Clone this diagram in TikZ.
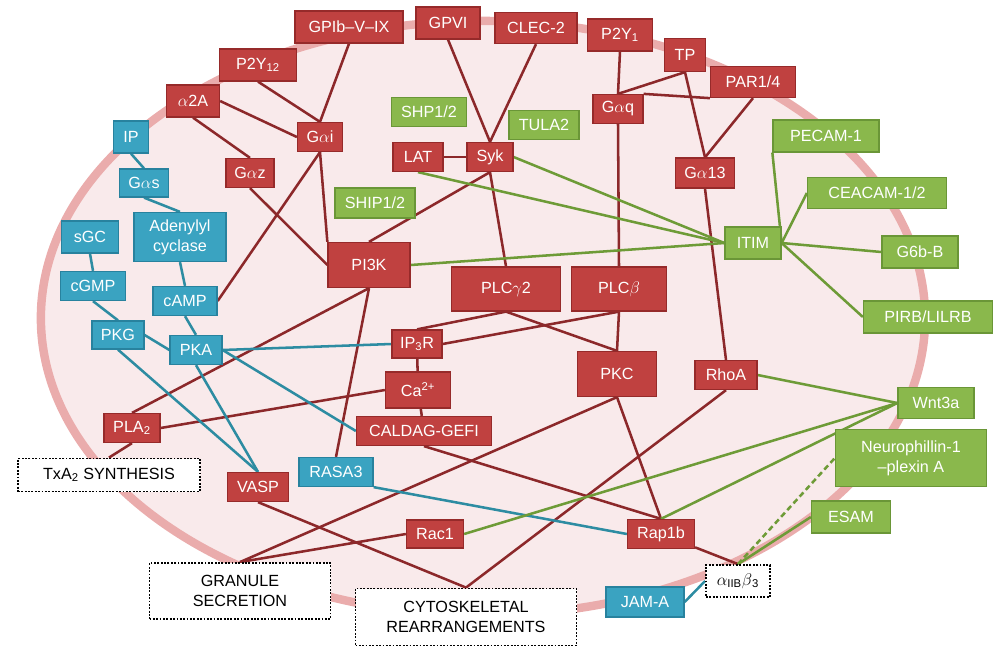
\documentclass[tikz,border=0pt]{standalone}
\usepackage{fontspec}
\setmainfont{Liberation Sans}
\usetikzlibrary{backgrounds}

\definecolor{boxred}{RGB}{192,65,64}
\definecolor{boxredline}{RGB}{150,42,42}
\definecolor{boxblue}{RGB}{58,163,193}
\definecolor{boxblueline}{RGB}{40,130,158}
\definecolor{boxgreen}{RGB}{138,184,76}
\definecolor{boxgreenline}{RGB}{106,150,55}
\definecolor{linkred}{RGB}{140,40,42}
\definecolor{linkblue}{RGB}{45,140,162}
\definecolor{linkgreen}{RGB}{110,155,55}
\definecolor{cellfill}{RGB}{249,234,235}
\definecolor{cellrim}{RGB}{234,172,172}

\begin{document}
\begin{tikzpicture}[x=0.025cm,y=-0.025cm,font=\fontsize{11.5}{14}\selectfont,
 wh/.style 2 args={minimum width=#1*0.025cm,minimum height=#2*0.025cm},
 box/.style={draw,line width=0.9pt,inner sep=0pt,align=center,text=white},
 rbox/.style={box,fill=boxred,draw=boxredline},
 bbox/.style={box,fill=boxblue,draw=boxblueline},
 gbox/.style={box,fill=boxgreen,draw=boxgreenline},
 outcome/.style={draw,fill=white,line width=1.3pt,dash pattern=on 1.3pt off 1.1pt,
   inner sep=0pt,align=center,text=black},
 rl/.style={draw=linkred,line width=1.8pt},
 bl/.style={draw=linkblue,line width=1.8pt},
 gl/.style={draw=linkgreen,line width=1.8pt}]
\useasboundingbox (0,0) rectangle (1000,647);

% receptors and signalling proteins
\node[rbox,wh={108}{32}] (GPIb) at (349,27) {GPIb–V–IX};
\node[rbox,wh={64}{32}] (GPVI) at (448,23) {GPVI};
\node[rbox,wh={82}{31}] (CLEC) at (536,28) {CLEC-2};
\node[rbox,wh={65}{32}] (P2Y1) at (620,35) {P2Y\textsubscript{1}};
\node[rbox,wh={41}{33}] (TP) at (685,55) {TP};
\node[rbox,wh={85}{31}] (PAR) at (753,82) {PAR1/4};
\node[rbox,wh={50}{29}] (Gaq) at (618,109) {G$\alpha$q};
\node[rbox,wh={59}{30}] (Ga13) at (705,173) {G$\alpha$13};
\node[rbox,wh={46}{29}] (Syk) at (490,157) {Syk};
\node[rbox,wh={50}{29}] (LAT) at (418,157) {LAT};
\node[rbox,wh={77}{32}] (P2Y12) at (258,65) {P2Y\textsubscript{12}};
\node[rbox,wh={53}{32}] (a2A) at (193,101) {$\alpha$2A};
\node[rbox,wh={45}{29}] (Gai) at (320,137) {G$\alpha$i};
\node[rbox,wh={48}{29}] (Gaz) at (250,173) {G$\alpha$z};
\node[rbox,wh={82}{45}] (PI3K) at (369,265) {PI3K};
\node[rbox,wh={109}{44}] (PLCg) at (506,289) {PLC$\gamma$2};
\node[rbox,wh={95}{44}] (PLCb) at (619,289) {PLC$\beta$};
\node[rbox,wh={50}{28}] (IP3R) at (417,344) {IP\textsubscript{3}R};
\node[rbox,wh={65}{36}] (Ca) at (418,390) {Ca\textsuperscript{2+}};
\node[rbox,wh={79}{45}] (PKC) at (617,374) {PKC};
\node[rbox,wh={62}{29}] (RhoA) at (726,375) {RhoA};
\node[rbox,wh={135}{29}] (CALDAG) at (424,431) {CALDAG-GEFI};
\node[rbox,wh={56}{29}] (PLA2) at (132,428) {PLA\textsubscript{2}};
\node[rbox,wh={61}{29}] (VASP) at (258,487) {VASP};
\node[rbox,wh={57}{28}] (Rac1) at (435,534) {Rac1};
\node[rbox,wh={67}{29}] (Rap1b) at (661,534) {Rap1b};

% cyclic nucleotide branch
\node[bbox,wh={35}{32}] (IP) at (131,137) {IP};
\node[bbox,wh={49}{28}] (Gas) at (144,183) {G$\alpha$s};
\node[bbox,wh={92}{49}] (AC) at (180,237) {Adenylyl\\cyclase};
\node[bbox,wh={57}{32}] (sGC) at (90,237) {sGC};
\node[bbox,wh={65}{29}] (cGMP) at (93,286) {cGMP};
\node[bbox,wh={64}{29}] (cAMP) at (185,301) {cAMP};
\node[bbox,wh={52}{28}] (PKG) at (118,335) {PKG};
\node[bbox,wh={52}{29}] (PKA) at (196,350) {PKA};
\node[bbox,wh={74}{29}] (RASA3) at (336,472) {RASA3};
\node[bbox,wh={78}{30}] (JAMA) at (645,602) {JAM-A};

% inhibitory side
\node[gbox,wh={75}{29}] (SHP) at (429,112) {SHP1/2};
\node[gbox,wh={70}{29}] (TULA) at (544,125) {TULA2};
\node[gbox,wh={80}{30}] (SHIP) at (375,203) {SHIP1/2};
\node[gbox,wh={106}{32}] (PECAM) at (826,136) {PECAM-1};
\node[gbox,wh={139}{31}] (CEACAM) at (877,193) {CEACAM-1/2};
\node[gbox,wh={56}{32}] (ITIM) at (753,243) {ITIM};
\node[gbox,wh={76}{32}] (G6b) at (920,252) {G6b-B};
\node[gbox,wh={129}{32}] (PIRB) at (928,317) {PIRB/LILRB};
\node[gbox,wh={76}{31}] (Wnt) at (936,403) {Wnt3a};
\node[gbox,wh={151}{57}] (NP) at (911,458) {Neurophillin-1\\–plexin A};
\node[gbox,wh={79}{32}] (ESAM) at (851,517) {ESAM};

% outcomes
\node[outcome,wh={182}{33}] (TxA2) at (109,475) {TxA\textsubscript{2} SYNTHESIS};
\node[outcome,wh={181}{56}] (granule) at (240,591) {GRANULE\\SECRETION};
\node[outcome,wh={221}{57}] (cyto) at (466,617) {CYTOSKELETAL\\REARRANGEMENTS};
\node[outcome,wh={64}{32}] (itg) at (738,581) {$\alpha$\textsubscript{IIB}$\beta$\textsubscript{3}};

\begin{scope}[on background layer]
\draw[draw=cellrim,fill=cellfill,line width=6pt] (483,318) ellipse [x radius=11.05cm,y radius=7.425cm];

\path[rl]
 (P2Y12.south) edge (Gai.north)
 (GPIb.south) edge (Gai.north)
 (a2A.east) edge (Gai.west)
 (a2A.south) edge (Gaz.north)
 (Gai.south) edge (cAMP.east)
 (Gai.south) edge (PI3K.north west)
 (Gaz.south) edge (PI3K.west)
 (GPVI.south) edge (Syk.north)
 (CLEC.south) edge (Syk.north)
 (LAT) edge (Syk)
 (Syk.south) edge (PI3K.north)
 (Syk.south) edge (PLCg.north)
 (P2Y1.south) edge (Gaq.north)
 (TP.south) edge (Gaq.north)
 (PAR.south west) edge (Gaq.north east)
 (TP.south) edge (Ga13.north)
 (PAR.south) edge (Ga13.north)
 (Gaq.south) edge (PLCb.north)
 (Ga13.south) edge (RhoA.north)
 (PLCg.south) edge (IP3R.north)
 (PLCb.south) edge (IP3R.east)
 (PLCg.south) edge (PKC.north)
 (PLCb.south) edge (PKC.north)
 (IP3R) edge (Ca)
 (Ca) edge (CALDAG)
 (Ca.west) edge (PLA2.east)
 (PI3K.south) edge (PLA2.north)
 (PI3K.south) edge (RASA3.north)
 (PLA2.south) edge (TxA2.north)
 (CALDAG.south) edge (Rap1b.north)
 (PKC.south) edge (Rap1b.north)
 (PKC.south) edge (granule.north)
 (Rac1.west) edge (granule.north)
 (VASP.south) edge (cyto.north)
 (RhoA.south) edge (cyto.north)
 (Rap1b) edge (itg.north);

\path[bl]
 (IP.south) edge (Gas.north)
 (Gas.south) edge (AC.north)
 (AC.south) edge (cAMP.north)
 (cAMP.south) edge (PKA.north)
 (sGC.south) edge (cGMP.north)
 (cGMP.south) edge (PKG.north)
 (PKG.east) edge (PKA.west)
 (PKG.south) edge (VASP.north)
 (PKA.south) edge (VASP.north)
 (PKA.east) edge (IP3R.west)
 (PKA.east) edge (CALDAG.west)
 (RASA3.south east) edge (Rap1b.west)
 (JAMA.east) edge (itg.west);

\path[gl]
 (LAT.south) edge (ITIM.west)
 (Syk.east) edge (ITIM.west)
 (PI3K.east) edge (ITIM.west)
 (PECAM.south west) edge (ITIM.east)
 (CEACAM.west) edge (ITIM.east)
 (ITIM.east) edge (G6b.west)
 (ITIM.east) edge (PIRB.west)
 (RhoA.east) edge (Wnt.west)
 (Rac1.east) edge (Wnt.west)
 (Rap1b.north) edge (Wnt.west)
 (ESAM.west) edge (itg.north)
 (itg.north) edge[dash pattern=on 4pt off 2.5pt] (NP.west);
\end{scope}
\end{tikzpicture}
\end{document}
